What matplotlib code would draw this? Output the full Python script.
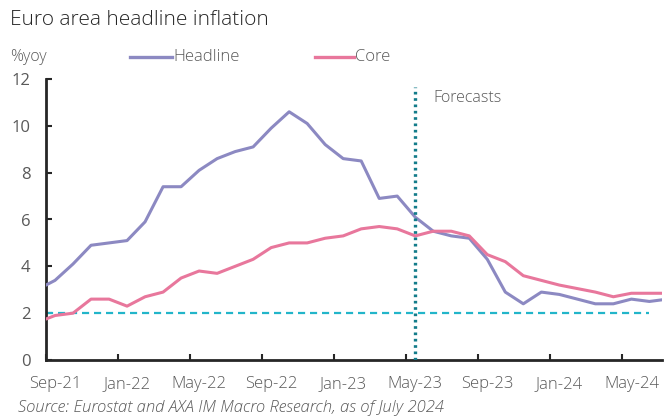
import matplotlib
matplotlib.use("Agg")
import matplotlib.pyplot as plt
from matplotlib.lines import Line2D

# monthly, Aug-21 .. Jul-24 (index -1 .. 34, Sep-21 = 0)
months = ["Aug-21", "Sep-21", "Oct-21", "Nov-21", "Dec-21",
          "Jan-22", "Feb-22", "Mar-22", "Apr-22", "May-22", "Jun-22",
          "Jul-22", "Aug-22", "Sep-22", "Oct-22", "Nov-22", "Dec-22",
          "Jan-23", "Feb-23", "Mar-23", "Apr-23", "May-23", "Jun-23",
          "Jul-23", "Aug-23", "Sep-23", "Oct-23", "Nov-23", "Dec-23",
          "Jan-24", "Feb-24", "Mar-24", "Apr-24", "May-24", "Jun-24", "Jul-24"]
headline = [3.0, 3.4, 4.1, 4.9, 5.0, 5.1, 5.9, 7.4, 7.4, 8.1, 8.6, 8.9,
            9.1, 9.9, 10.6, 10.1, 9.2, 8.6, 8.5, 6.9, 7.0, 6.1, 5.5, 5.3,
            5.2, 4.3, 2.9, 2.4, 2.9, 2.8, 2.6, 2.4, 2.4, 2.6, 2.5, 2.6]
core = [1.6, 1.9, 2.0, 2.6, 2.6, 2.3, 2.7, 2.9, 3.5, 3.8, 3.7, 4.0,
        4.3, 4.8, 5.0, 5.0, 5.2, 5.3, 5.6, 5.7, 5.6, 5.3, 5.5, 5.5,
        5.3, 4.5, 4.2, 3.6, 3.4, 3.2, 3.05, 2.9, 2.7, 2.85, 2.85, 2.85]
target = 2.0
forecast_start = "May-23"
tick_labels = ["Sep-21", "Jan-22", "May-22", "Sep-22", "Jan-23",
               "May-23", "Sep-23", "Jan-24", "May-24"]

GREY = "#595959"
HEAD_C = "#8C89C2"
CORE_C = "#E8779C"
plt.rcParams["font.family"] = ["Open Sans", "DejaVu Sans"]

x = list(range(-1, len(months) - 1))
pos = {m: i for m, i in zip(months, x)}

W, H = 669, 419
fig = plt.figure(figsize=(W / 100, H / 100), dpi=100)
ax = fig.add_axes([46 / W, 59 / H, 616 / W, 281 / H])

ax.plot(x, headline, color=HEAD_C, lw=2.2, zorder=3)
ax.plot(x, core, color=CORE_C, lw=2.2, zorder=3)
ax.plot([-0.5, 33.0], [target, target], color="#22B5C9", lw=1.6,
        ls=(0, (3.2, 2.2)), zorder=2)
ax.axvline(pos[forecast_start], ymin=0, ymax=0.97, color="#137C8A", lw=2.4,
           ls=(0, (0.8, 1.1)), zorder=4)
ax.text(pos[forecast_start] + 1.0, 11.2, "Forecasts", color=GREY,
        fontsize=11.5, fontweight="light", va="center")

ax.set_xlim(-0.5, 33.7)
ax.set_ylim(0, 12)
ax.set_yticks(range(0, 13, 2))
ax.tick_params(axis="y", direction="in", length=4, width=1.5, color="#262626",
               labelsize=12, labelcolor=GREY, pad=11)
# ticks on category boundaries, labels at category centres
ax.set_xticks([pos[t] - 0.5 for t in tick_labels])
ax.set_xticklabels([])
ax.tick_params(axis="x", direction="in", length=4, width=1.5, color="#262626")
for t in tick_labels:
    ax.text(pos[t], -0.7, t, ha="center", va="top", color=GREY,
            fontsize=12, fontweight="light")
for s in ["top", "right"]:
    ax.spines[s].set_visible(False)
for s in ["left", "bottom"]:
    ax.spines[s].set_color("#262626")
    ax.spines[s].set_linewidth(2)

fig.text(10 / W, 1 - 20 / H, "Euro area headline inflation", fontsize=15,
         fontweight="light", color="#262626", va="center")
fig.text(10 / W, 1 - 57 / H, "%yoy", fontsize=11.5, fontweight="light",
         color=GREY, va="center")

# legend drawn by hand
ly = 1 - 57 / H
for x0, x1, c, lab in [(130, 172, HEAD_C, "Headline"), (315, 354, CORE_C, "Core")]:
    fig.add_artist(Line2D([x0 / W, x1 / W], [ly, ly], color=c, lw=2.4,
                          transform=fig.transFigure))
    fig.text((x1 + 1) / W, ly, lab, fontsize=12, fontweight="light",
             color=GREY, va="center")

fig.text(18 / W, 1 - 408 / H,
         "Source: Eurostat and AXA IM Macro Research, as of July 2024",
         fontsize=12, style="italic", fontweight="light", color=GREY, va="center")

fig.savefig("out.png", dpi=100)
